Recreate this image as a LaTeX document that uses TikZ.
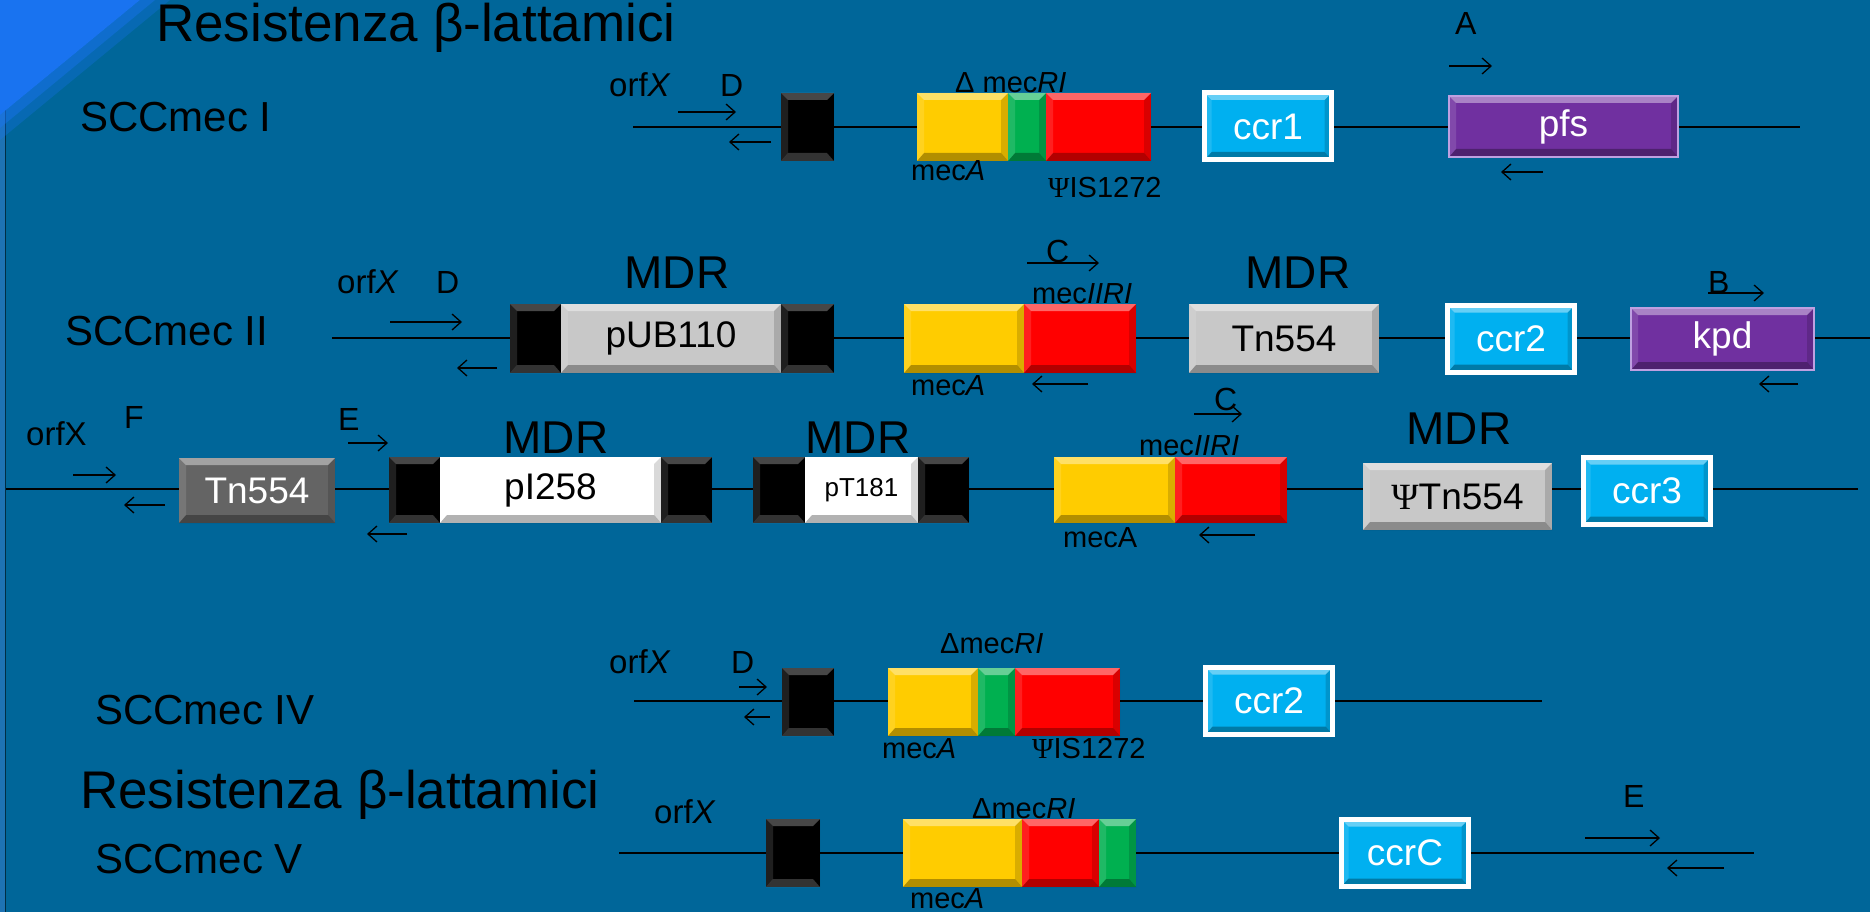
\documentclass[tikz,border=0pt]{standalone}
\usepackage{fontspec}
\setmainfont{Liberation Sans}
\newfontfamily\psifont{Liberation Serif}
\usetikzlibrary{arrows.meta,positioning,calc}

\definecolor{bgblue}{RGB}{0,102,153}
\definecolor{cornerblue}{RGB}{25,115,240}
\definecolor{edgeblue}{RGB}{30,115,180}
\definecolor{mecyellow}{RGB}{255,204,0}
\definecolor{mecgreen}{RGB}{0,176,80}
\definecolor{mecred}{RGB}{255,0,0}
\definecolor{ccrcyan}{RGB}{0,176,240}
\definecolor{pfspurple}{RGB}{112,48,160}
\definecolor{pfsedge}{RGB}{190,160,225}
\definecolor{tngrey}{RGB}{200,200,200}
\definecolor{tndark}{RGB}{100,100,100}

\newcommand{\fsz}[1]{\fontsize{#1}{#1}\selectfont}
% bevel drawn inside a box: top band, bottom band, sides
\newcommand{\bevelpic}[4]{%
  \path (path picture bounding box.north west) coordinate (bvnw)
        (path picture bounding box.north east) coordinate (bvne)
        (path picture bounding box.south west) coordinate (bvsw)
        (path picture bounding box.south east) coordinate (bvse);
  \fill[#1,opacity=#2] (bvnw) -- (bvne) -- ([shift={(-7pt,-7pt)}]bvne) -- ([shift={(7pt,-7pt)}]bvnw) -- cycle;
  \fill[#3,opacity=#4] (bvsw) -- (bvse) -- ([shift={(-7pt,8pt)}]bvse) -- ([shift={(7pt,8pt)}]bvsw) -- cycle;
  \fill[white,opacity=0.12] (bvnw) -- ([shift={(7pt,-7pt)}]bvnw) -- ([shift={(7pt,8pt)}]bvsw) -- (bvsw) -- cycle;
  \fill[black,opacity=0.15] (bvne) -- ([shift={(-7pt,-7pt)}]bvne) -- ([shift={(-7pt,8pt)}]bvse) -- (bvse) -- cycle;
}

\tikzset{
  bevel/.style={path picture={\bevelpic{white}{0.4}{black}{0.3}}},
  blkbevel/.style={path picture={\bevelpic{white}{0.28}{white}{0.2}}},
  genebox/.style={rectangle, inner sep=0, outer sep=0, minimum height=68, font=\fsz{37}},
  yel/.style={genebox, fill=mecyellow, bevel},
  grn/.style={genebox, fill=mecgreen, bevel},
  redb/.style={genebox, fill=mecred, bevel},
  blk/.style={genebox, fill=black, blkbevel},
  tn/.style={genebox, fill=tngrey, bevel},
  tnd/.style={genebox, fill=tndark, text=white, bevel},
  plas/.style={genebox, fill=white, bevel},
  ccr/.style={genebox, fill=ccrcyan, draw=white, line width=5pt, minimum width=127, minimum height=67, text=white, bevel},
  purp/.style={genebox, fill=pfspurple, draw=pfsedge, line width=1.5pt, text=white, bevel},
  dna/.style={line width=2pt, black},
  primer/.style={line width=1.3pt, -{Straight Barb[length=9pt,width=16pt]}},
  ttl/.style={font=\fsz{53}, inner sep=0, anchor=base west},
  big/.style={font=\fsz{42}, inner sep=0, anchor=base west},
  mdr/.style={font=\fsz{46}, inner sep=0, anchor=base},
  orf/.style={font=\fsz{33}, inner sep=0, anchor=base west},
  pl/.style={font=\fsz{32}, inner sep=0, anchor=base west},
  lbl/.style={font=\fsz{29}, inner sep=0, anchor=base west}
}

\begin{document}
\begin{tikzpicture}[x=1pt, y=-1pt]
  \useasboundingbox (0,0) rectangle (1870,912);
  \fill[bgblue] (0,0) rectangle (1870,912);
  \fill[edgeblue] (0,0) rectangle (5,912);
  \draw[line width=1pt, black!55!bgblue] (5.5,0) -- (5.5,912);
  \fill[cornerblue] (0,0) -- (140,0) -- (0,115) -- cycle;
  \fill[cornerblue, opacity=0.6] (140,0) -- (155,0) -- (0,128) -- (0,115) -- cycle;
  \fill[cornerblue, opacity=0.3] (155,0) -- (170,0) -- (0,140) -- (0,128) -- cycle;

  \node[ttl] (title) at (156,42) {Resistenza β-lattamici};

  % SCCmec I
  \node[big] (sccI) at (80,132) {SCCmec I};
  \coordinate (Is) at (633,127);
  \coordinate (Ie) at (1800,127);
  \draw[dna] (Is) -- (Ie);
  \node[blk, minimum width=53] (bkI) at (807.5,127) {};
  \node[yel, minimum width=91, anchor=west] (yelI) at (917,127) {};
  \node[grn, minimum width=38, right=0pt of yelI] (grnI) {};
  \node[redb, minimum width=105, right=0pt of grnI] (redI) {};
  \node[ccr] (ccrI) at (1268,126.5) {ccr1};
  \node[purp, minimum width=229, minimum height=61] (pfs) at (1563.5,126.5) {pfs};
  \node[orf] (orfI) at (609,97) {orf\textit{X}};
  \node[pl] (DI) at (720,97) {D};
  \draw[primer] (678,112) -- (736,112);
  \draw[primer] (771,142) -- (729,142);
  \node[lbl] (dmecI) at (955,93) {Δ mec\textit{RI}};
  \node[lbl] (mecAI) at (911,181) {mec\textit{A}};
  \node[lbl] (isI) at (1048,197) {{\psifont Ψ}IS1272};
  \node[pl] (AI) at (1455,35) {A};
  \draw[primer] (1449,66) -- (1492,66);
  \draw[primer] (1543,172) -- (1501,172);

  % SCCmec II
  \node[big] (sccII) at (65,345) {SCCmec II};
  \coordinate (IIs) at (332,338);
  \coordinate (IIe) at (1870,338);
  \draw[dna] (IIs) -- (IIe);
  \node[blk, minimum width=51, minimum height=69, anchor=west] (bkIIa) at (510,338.5) {};
  \node[tn, minimum width=220, minimum height=69, right=0pt of bkIIa] (pub) {pUB110};
  \node[blk, minimum width=53, minimum height=69, right=0pt of pub] (bkIIb) {};
  \node[mdr] (mdrIIa) at (677,288) {MDR};
  \node[yel, minimum width=120, minimum height=69, anchor=west] (yelII) at (904,338.5) {};
  \node[redb, minimum width=112, minimum height=69, right=0pt of yelII] (redII) {};
  \node[tn, minimum width=190, minimum height=69] (tnII) at (1284,338.5) {Tn554};
  \node[mdr] (mdrIIb) at (1298,288) {MDR};
  \node[ccr] (ccrII) at (1511,339) {ccr2};
  \node[purp, minimum width=183, minimum height=62] (kpd) at (1722.5,339) {kpd};
  \node[orf] (orfII) at (337,293) {orf\textit{X}};
  \node[pl] (DII) at (436,293) {D};
  \draw[primer] (390,322) -- (462,322);
  \draw[primer] (497,368) -- (457,368);
  \node[pl] (CII) at (1046,262) {C};
  \draw[primer] (1027,263) -- (1099,263);
  \node[lbl] (mecII) at (1032,303) {mec\textit{IIRI}};
  \node[lbl] (mecAII) at (911,395) {mec\textit{A}};
  \draw[primer] (1088,384) -- (1032,384);
  \node[pl] (BII) at (1708,293) {B};
  \draw[primer] (1708,293) -- (1764,293);
  \draw[primer] (1798,384) -- (1759,384);

  % SCCmec III
  \coordinate (IIIs) at (6,489);
  \coordinate (IIIe) at (1858,489);
  \draw[dna] (IIIs) -- (IIIe);
  \node[orf] (orfIII) at (26,445) {orfX};
  \node[pl] (FIII) at (124,428) {F};
  \draw[primer] (73,475) -- (116,475);
  \draw[primer] (165,505) -- (124,505);
  \node[tnd, minimum width=156, minimum height=65] (tnIIIa) at (257,490.5) {Tn554};
  \node[pl] (EIII) at (338,430) {E};
  \draw[primer] (348,443) -- (388,443);
  \draw[primer] (407,534) -- (367,534);
  \node[blk, minimum width=51, minimum height=66, anchor=west] (bkIIIa) at (389,490) {};
  \node[plas, minimum width=221, minimum height=66, right=0pt of bkIIIa] (pI) {pI258};
  \node[blk, minimum width=51, minimum height=66, right=0pt of pI] (bkIIIb) {};
  \node[mdr] (mdrIIIa) at (556,453) {MDR};
  \node[blk, minimum width=52, minimum height=66, anchor=west] (bkIIIc) at (753,490) {};
  \node[plas, minimum width=113, minimum height=66, right=0pt of bkIIIc, font=\fsz{26}] (pT) {pT181};
  \node[blk, minimum width=51, minimum height=66, right=0pt of pT] (bkIIId) {};
  \node[mdr] (mdrIIIb) at (858,453) {MDR};
  \node[yel, minimum width=121, minimum height=66, anchor=west] (yelIII) at (1054,490) {};
  \node[redb, minimum width=112, minimum height=66, right=0pt of yelIII] (redIII) {};
  \node[pl] (CIII) at (1214,410) {C};
  \draw[primer] (1194,414) -- (1242,414);
  \node[lbl] (mecIII) at (1139,455) {mec\textit{IIRI}};
  \node[lbl] (mecAIII) at (1063,547) {mecA};
  \draw[primer] (1255,535) -- (1199,535);
  \node[tn, minimum width=189, minimum height=67] (psitn) at (1457.5,496.5) {{\psifont Ψ}Tn554};
  \node[mdr] (mdrIIIc) at (1459,444) {MDR};
  \node[ccr] (ccrIII) at (1647,491) {ccr3};

  % SCCmec IV
  \node[big] (sccIV) at (95,724) {SCCmec IV};
  \coordinate (IVs) at (634,701);
  \coordinate (IVe) at (1542,701);
  \draw[dna] (IVs) -- (IVe);
  \node[orf] (orfIV) at (609,673) {orf\textit{X}};
  \node[pl] (DIV) at (731,673) {D};
  \draw[primer] (739,687) -- (767,687);
  \draw[primer] (770,717) -- (744,717);
  \node[blk, minimum width=52] (bkIV) at (808,702) {};
  \node[yel, minimum width=90, anchor=west] (yelIV) at (888,702) {};
  \node[grn, minimum width=37, right=0pt of yelIV] (grnIV) {};
  \node[redb, minimum width=105, right=0pt of grnIV] (redIV) {};
  \node[lbl] (dmecIV) at (940,653) {Δmec\textit{RI}};
  \node[lbl] (mecAIV) at (882,758) {mec\textit{A}};
  \node[lbl] (isIV) at (1032,758) {{\psifont Ψ}IS1272};
  \node[ccr] (ccrIV) at (1269,701) {ccr2};

  % SCCmec V
  \node[ttl] (titleV) at (80,808) {Resistenza β-lattamici};
  \node[big] (sccV) at (95,873) {SCCmec V};
  \coordinate (Vs) at (619,853);
  \coordinate (Ve) at (1754,853);
  \draw[dna] (Vs) -- (Ve);
  \node[orf] (orfV) at (654,823) {orf\textit{X}};
  \node[blk, minimum width=54] (bkV) at (793,853) {};
  \node[yel, minimum width=119, anchor=west] (yelV) at (903,853) {};
  \node[redb, minimum width=77, right=0pt of yelV] (redV) {};
  \node[grn, minimum width=37, right=0pt of redV] (grnV) {};
  \node[lbl] (dmecV) at (972,818) {Δmec\textit{RI}};
  \node[lbl] (mecAV) at (910,908) {mec\textit{A}};
  \node[ccr] (ccrV) at (1405,853) {ccrC};
  \node[pl] (EV) at (1623,807) {E};
  \draw[primer] (1585,838) -- (1660,838);
  \draw[primer] (1724,868) -- (1667,868);
\end{tikzpicture}
\end{document}
